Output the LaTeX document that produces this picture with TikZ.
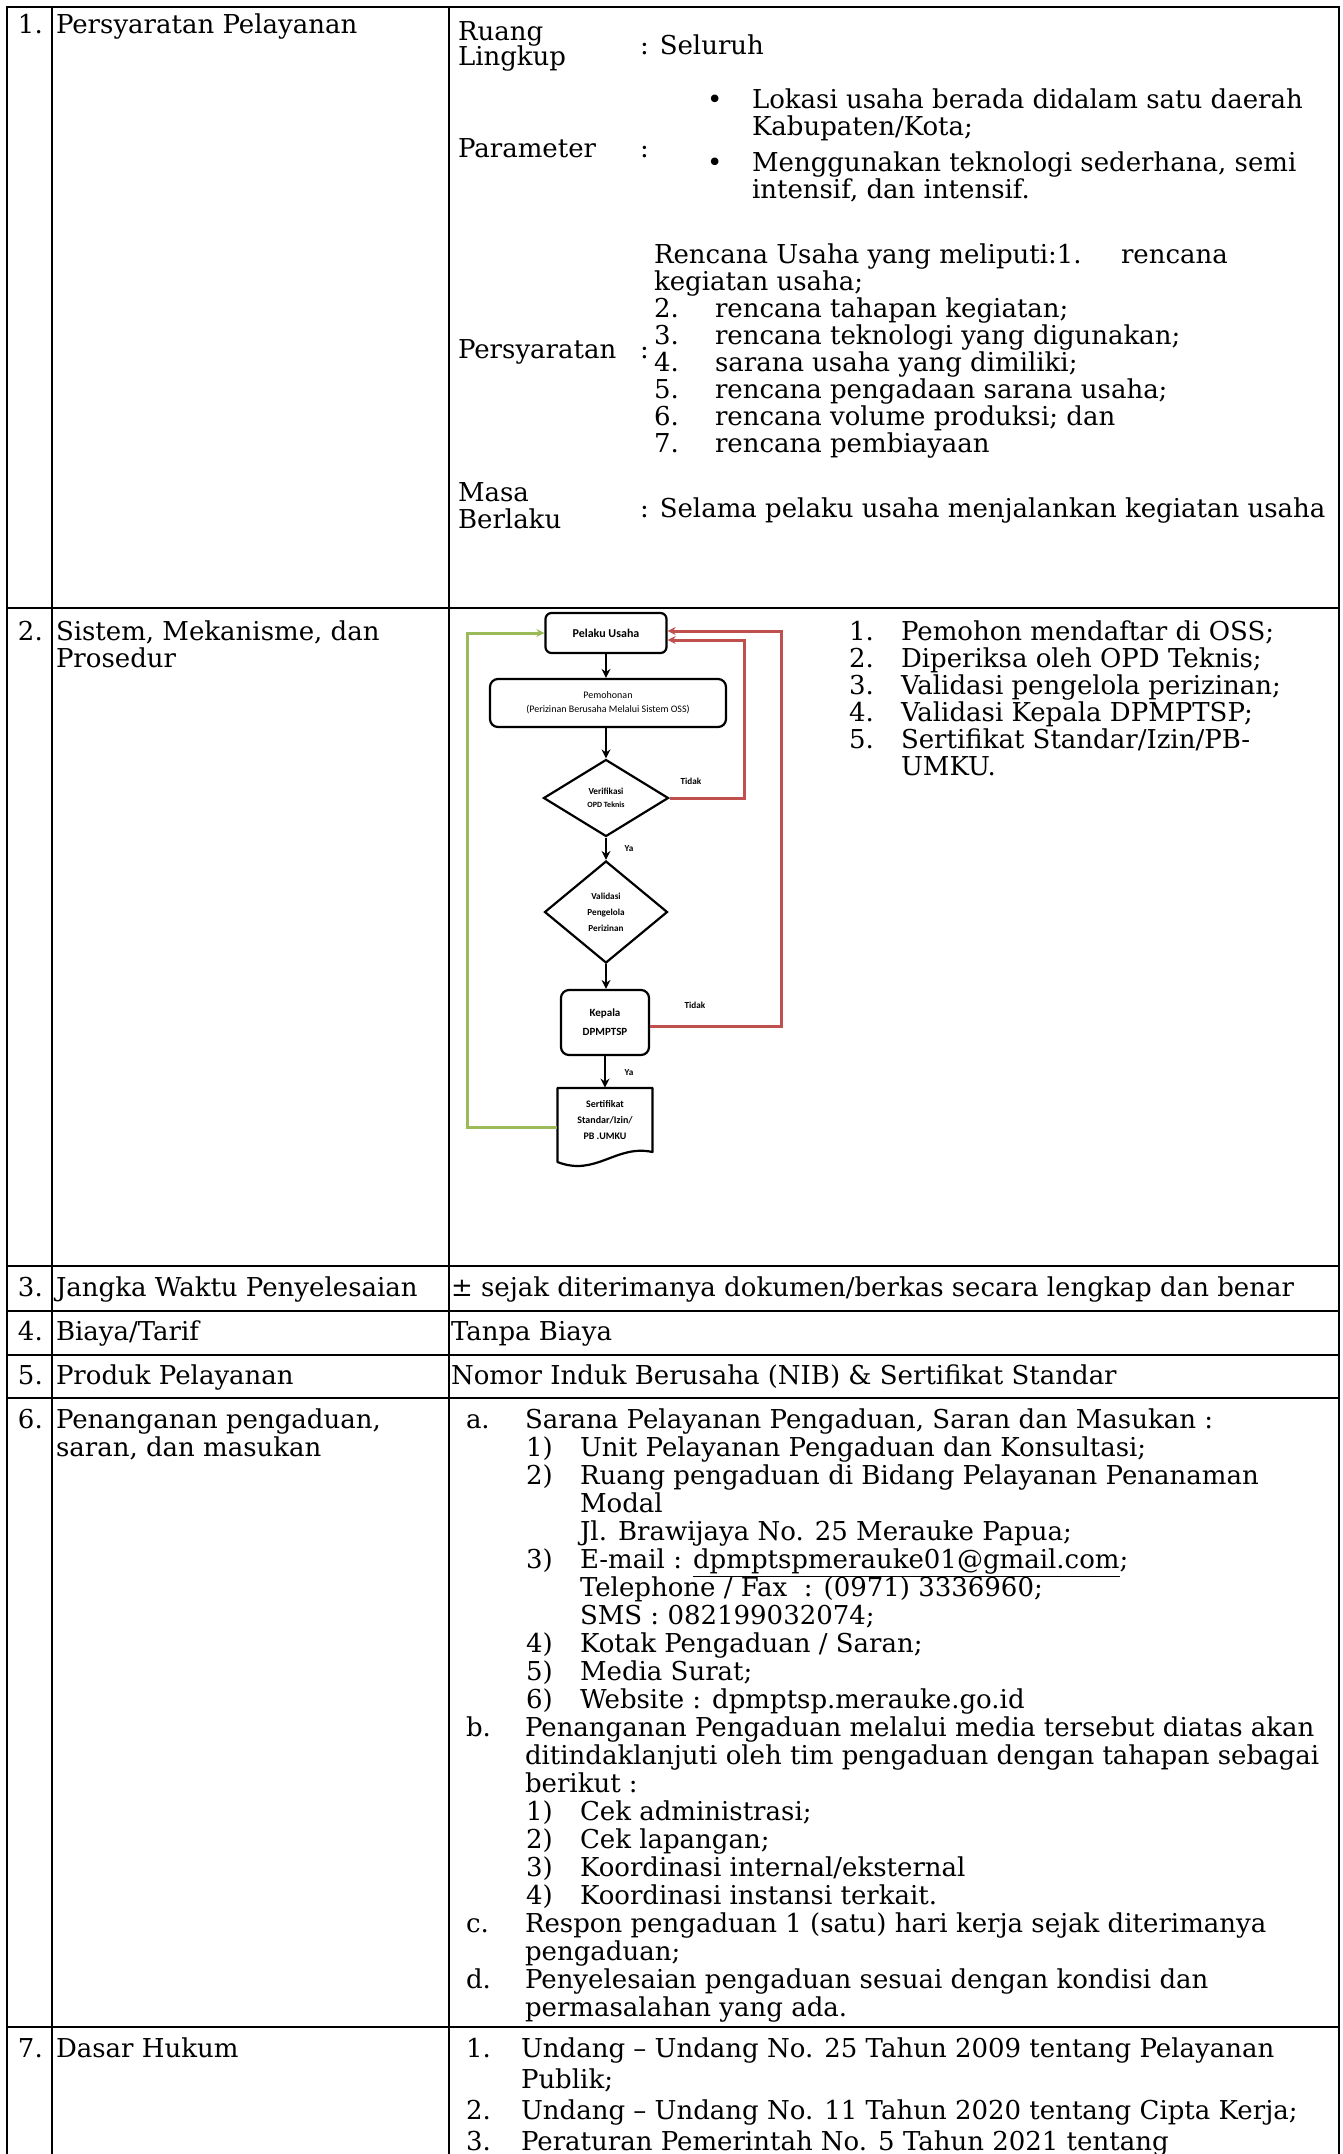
\documentclass[tikz,border=0pt]{standalone}
\usepackage{fontspec}
\setmainfont{DejaVu Serif}
\newfontfamily\flowfont{Carlito}
\usetikzlibrary{shapes.geometric,arrows.meta}
\definecolor{noRed}{HTML}{C0504D}
\definecolor{loopGreen}{HTML}{9BBB59}
\newcommand\tx[4]{\node[txt] (#1) at (#2,#3) {#4};}
\begin{document}
\begin{tikzpicture}[x=0.5pt,y=-0.5pt,
  txt/.style={anchor=base west,inner sep=0pt,outer sep=0pt,font=\fontsize{13}{15.5}\selectfont},
  rule/.style={line width=1.3pt,line cap=rect},
  fbox/.style={draw,line width=1.1pt,rounded corners=3pt,inner sep=0pt,align=center},
  fdia/.style={draw,diamond,line width=1.1pt,inner sep=0pt,align=center},
  flow/.style={line width=1pt,-{Stealth[length=4.5pt,width=4.5pt]}},
  back/.style={line width=1.5pt,-{Stealth[length=4pt,width=4pt]}},
  lbl/.style={font=\flowfont\bfseries\fontsize{4.6}{5}\selectfont,inner sep=0pt}]

\useasboundingbox (0,0) rectangle (1343,2154);
\fill[white] (0,0) rectangle (1343,2154);

% ---------- table rules ----------
\draw[rule] (7,7) -- (1339,7);
\foreach \yy in {608,1266,1311,1355,1398,2027}
  \draw[rule] (7,\yy) -- (1339,\yy);
\foreach \xx in {7,52,449,1339}
  \draw[rule] (\xx,7) -- (\xx,2154);

% ---------- row 1 ----------
\tx{n1}{18}{33}{1.}
\tx{l1}{56}{33}{Persyaratan Pelayanan}
\tx{rl1}{458}{40}{Ruang}
\tx{rl2}{458}{65}{Lingkup}
\tx{rlv}{640}{54}{: Seluruh}
\tx{pm}{458}{157}{Parameter}
\tx{pmc}{640}{157}{:}
\tx{pb1}{707}{108}{•}
\tx{pt1}{752}{108}{Lokasi usaha berada didalam satu daerah}
\tx{pt1b}{752}{135}{Kabupaten/Kota;}
\tx{pb2}{707}{171}{•}
\tx{pt2}{752}{171}{Menggunakan teknologi sederhana, semi}
\tx{pt2b}{752}{198}{intensif, dan intensif.}
\tx{ps}{458}{358}{Persyaratan}
\tx{psc}{640}{358}{:}
\tx{ru0}{654}{263}{Rencana Usaha yang meliputi:1.}
\tx{ru1}{1121}{263}{rencana}
\tx{ru1b}{654}{290}{kegiatan usaha;}
\tx{rn2}{654}{317}{2.}\tx{ru2}{715}{317}{rencana tahapan kegiatan;}
\tx{rn3}{654}{344}{3.}\tx{ru3}{715}{344}{rencana teknologi yang digunakan;}
\tx{rn4}{654}{371}{4.}\tx{ru4}{715}{371}{sarana usaha yang dimiliki;}
\tx{rn5}{654}{398}{5.}\tx{ru5}{715}{398}{rencana pengadaan sarana usaha;}
\tx{rn6}{654}{425}{6.}\tx{ru6}{715}{425}{rencana volume produksi; dan}
\tx{rn7}{654}{452}{7.}\tx{ru7}{715}{452}{rencana pembiayaan}
\tx{mb1}{458}{501}{Masa}
\tx{mb2}{458}{528}{Berlaku}
\tx{mbv}{640}{517}{: Selama pelaku usaha menjalankan kegiatan usaha}

% ---------- row 2 ----------
\tx{n2}{18}{640}{2.}
\tx{l2}{56}{640}{Sistem, Mekanisme, dan}
\tx{l2b}{56}{667}{Prosedur}
\tx{sn1}{849}{640}{1.}\tx{st1}{901}{640}{Pemohon mendaftar di OSS;}
\tx{sn2}{849}{667}{2.}\tx{st2}{901}{667}{Diperiksa oleh OPD Teknis;}
\tx{sn3}{849}{694}{3.}\tx{st3}{901}{694}{Validasi pengelola perizinan;}
\tx{sn4}{849}{721}{4.}\tx{st4}{901}{721}{Validasi Kepala DPMPTSP;}
\tx{sn5}{849}{748}{5.}\tx{st5}{901}{748}{Sertifikat Standar/Izin/PB-}
\tx{st5b}{901}{775}{UMKU.}

% flowchart
\node[fbox,minimum width=60.5pt,minimum height=20pt,
      font=\flowfont\bfseries\fontsize{6}{7}\selectfont] (pelaku) at (606,633) {Pelaku Usaha};
\node[fbox,rounded corners=4pt,minimum width=118pt,minimum height=24pt,
      font=\flowfont\fontsize{5}{7}\selectfont] (mohon) at (608,703)
      {Pemohonan\\(Perizinan Berusaha Melalui Sistem OSS)};
\node[fdia,minimum width=62.5pt,minimum height=38.5pt,
      font=\flowfont\bfseries\fontsize{4.6}{6.5}\selectfont] (verif) at (606,798)
      {Verifikasi\\{\fontsize{4}{5}\selectfont OPD Teknis}};
\node[fdia,minimum width=61.5pt,minimum height=51pt,
      font=\flowfont\bfseries\fontsize{4.6}{8}\selectfont] (valid) at (606,912)
      {Validasi\\Pengelola\\Perizinan};
\node[fbox,rounded corners=4pt,minimum width=44pt,minimum height=32.5pt,
      font=\flowfont\bfseries\fontsize{5.5}{9.5}\selectfont] (kepala) at (605,1022.5)
      {Kepala\\DPMPTSP};
\node[inner sep=0pt,minimum width=47.5pt,minimum height=32pt,align=center,
      font=\flowfont\bfseries\fontsize{5}{8.2}\selectfont] (doc) at (605,1120)
      {Sertifikat\\Standar/Izin/\\PB .UMKU};
\draw[line width=1.1pt,line join=round] (557.5,1088) -- (652.5,1088) -- (652.5,1152)
  .. controls (616,1144) and (596,1177) .. (557.5,1162) -- cycle;

\draw[flow] (pelaku.south) -- (pelaku.south |- mohon.north);
\draw[flow] (verif.north |- mohon.south) -- (verif.north);
\draw[flow] (verif.south) -- (valid.north);
\draw[flow] (valid.south) -- (valid.south |- kepala.north);
\draw[flow] (kepala.south) -- (doc.north);

\coordinate (r1) at (744,640);
\coordinate (r2) at (781,631);
\coordinate (g1) at (467,1127);
\draw[back,noRed] (verif.east) -| (r1) -- (pelaku.east |- r1);
\draw[back,noRed] ([yshift=-2pt]kepala.east) -| (r2) -- (pelaku.east |- r2);
\draw[back,loopGreen] (doc.west |- g1) -- (g1) -- (g1 |- pelaku.west) -- (pelaku.west);

\node[lbl] (tidak1) at (691,781) {Tidak};
\node[lbl] (tidak2) at (695,1005) {Tidak};
\node[lbl] (ya1) at (629,849) {Ya};
\node[lbl] (ya2) at (629,1073) {Ya};

% ---------- rows 3 to 5 ----------
\tx{n3}{18}{1296}{3.}
\tx{l3}{56}{1296}{Jangka Waktu Penyelesaian}
\tx{c3}{451}{1296}{± sejak diterimanya dokumen/berkas secara lengkap dan benar}
\tx{n4}{18}{1340}{4.}
\tx{l4}{56}{1340}{Biaya/Tarif}
\tx{c4}{451}{1340}{Tanpa Biaya}
\tx{n5}{18}{1384}{5.}
\tx{l5}{56}{1384}{Produk Pelayanan}
\tx{c5}{451}{1384}{Nomor Induk Berusaha (NIB) \& Sertifikat Standar}

% ---------- row 6 ----------
\tx{n6}{18}{1428}{6.}
\tx{l6}{56}{1428}{Penanganan pengaduan,}
\tx{l6b}{56}{1456}{saran, dan masukan}
\tx{ha}{466}{1428}{a.}\tx{ta}{525}{1428}{Sarana Pelayanan Pengaduan, Saran dan Masukan :}
\tx{ha1}{526}{1456}{1)}\tx{ta1}{580}{1456}{Unit Pelayanan Pengaduan dan Konsultasi;}
\tx{ha2}{526}{1484}{2)}\tx{ta2}{580}{1484}{Ruang pengaduan di Bidang Pelayanan Penanaman}
\tx{ta2b}{580}{1512}{Modal}
\tx{ta2c}{580}{1540}{Jl. Brawijaya No. 25 Merauke Papua;}
\tx{ha3}{526}{1568}{3)}\tx{ta3}{580}{1568}{E-mail : \underline{dpmptspmerauke01@gmail.com};}
\tx{ta3b}{580}{1596}{Telephone / Fax\ \ : (0971) 3336960;}
\tx{ta3c}{580}{1624}{SMS : 082199032074;}
\tx{ha4}{526}{1652}{4)}\tx{ta4}{580}{1652}{Kotak Pengaduan / Saran;}
\tx{ha5}{526}{1680}{5)}\tx{ta5}{580}{1680}{Media Surat;}
\tx{ha6}{526}{1708}{6)}\tx{ta6}{580}{1708}{Website : dpmptsp.merauke.go.id}
\tx{hb}{466}{1736}{b.}\tx{tb}{525}{1736}{Penanganan Pengaduan melalui media tersebut diatas akan}
\tx{tbb}{525}{1764}{ditindaklanjuti oleh tim pengaduan dengan tahapan sebagai}
\tx{tbc}{525}{1792}{berikut :}
\tx{hb1}{526}{1820}{1)}\tx{tb1}{580}{1820}{Cek administrasi;}
\tx{hb2}{526}{1848}{2)}\tx{tb2}{580}{1848}{Cek lapangan;}
\tx{hb3}{526}{1876}{3)}\tx{tb3}{580}{1876}{Koordinasi internal/eksternal}
\tx{hb4}{526}{1904}{4)}\tx{tb4}{580}{1904}{Koordinasi instansi terkait.}
\tx{hc}{466}{1932}{c.}\tx{tc}{525}{1932}{Respon pengaduan 1 (satu) hari kerja sejak diterimanya}
\tx{tcb}{525}{1960}{pengaduan;}
\tx{hd}{466}{1988}{d.}\tx{td}{525}{1988}{Penyelesaian pengaduan sesuai dengan kondisi dan}
\tx{tdb}{525}{2016}{permasalahan yang ada.}

% ---------- row 7 ----------
\tx{n7}{18}{2057}{7.}
\tx{l7}{56}{2057}{Dasar Hukum}
\tx{h71}{466}{2057}{1.}\tx{t71}{521}{2057}{Undang -- Undang No. 25 Tahun 2009 tentang Pelayanan}
\tx{t71b}{521}{2088}{Publik;}
\tx{h72}{466}{2119}{2.}\tx{t72}{521}{2119}{Undang -- Undang No. 11 Tahun 2020 tentang Cipta Kerja;}
\tx{h73}{466}{2150}{3.}\tx{t73}{521}{2150}{Peraturan Pemerintah No. 5 Tahun 2021 tentang}
\end{tikzpicture}
\end{document}
